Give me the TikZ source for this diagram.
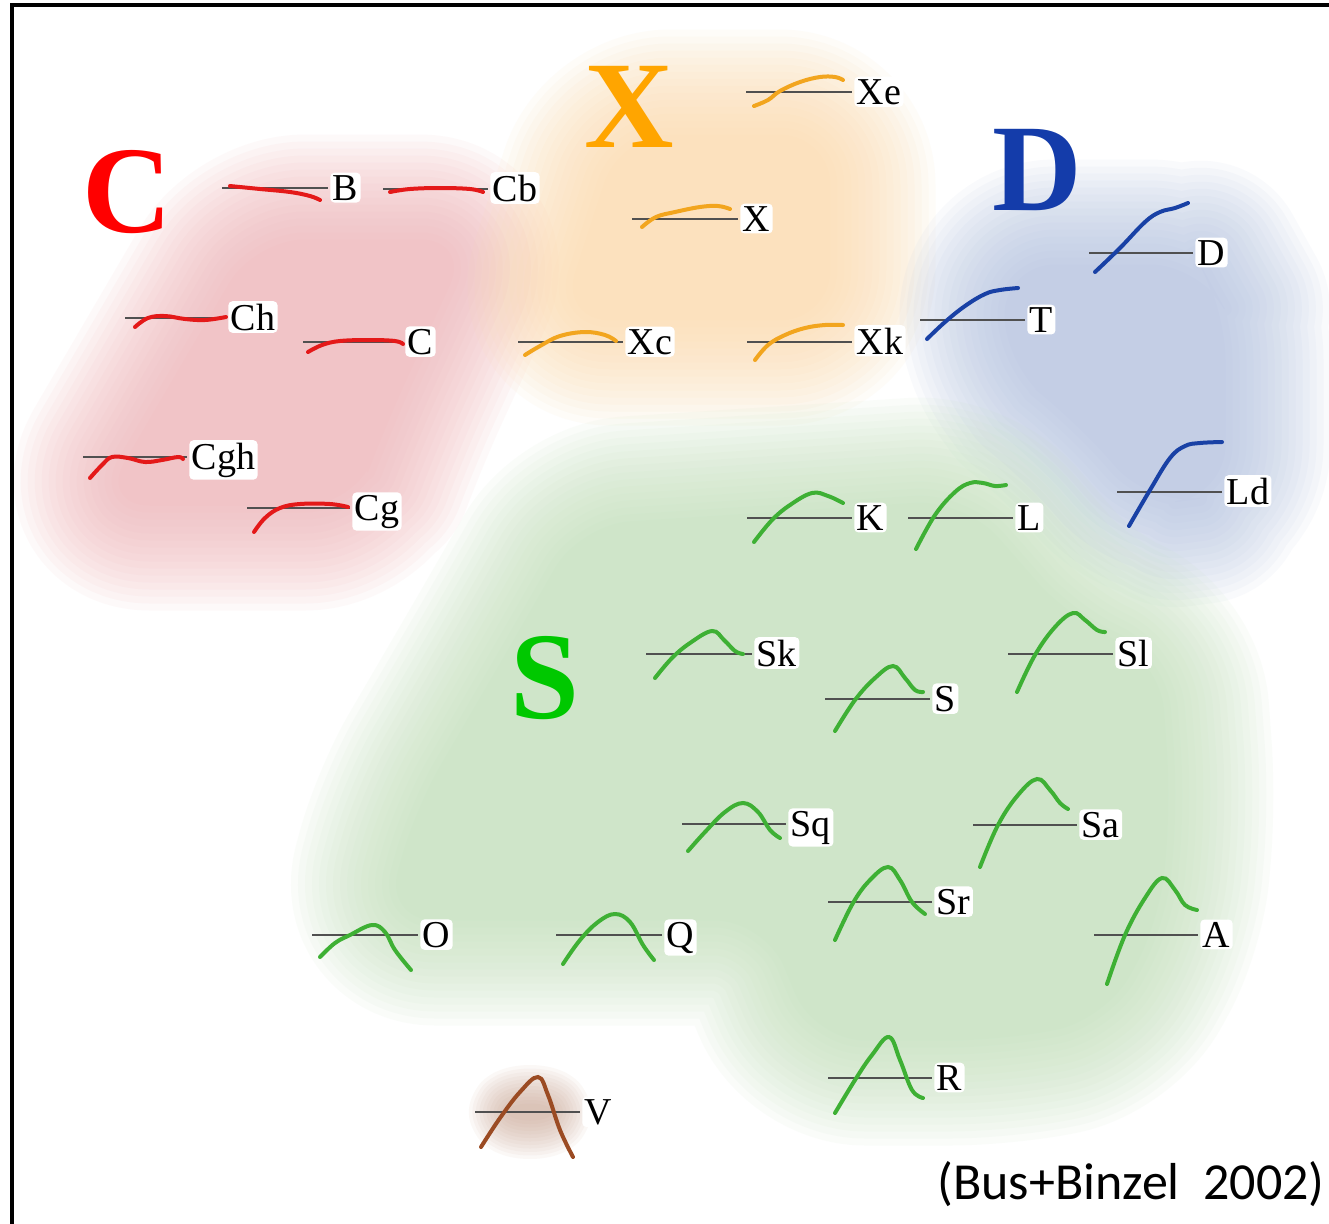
\documentclass[tikz,border=0pt]{standalone}
\usepackage{fontspec}
\setmainfont{Liberation Serif}
\newfontfamily\citefont{Carlito}
\definecolor{cred}{RGB}{228,25,25}
\definecolor{corange}{RGB}{242,165,30}
\definecolor{cblue}{RGB}{25,65,165}
\definecolor{cgreen}{RGB}{62,176,52}
\definecolor{cbrown}{RGB}{155,75,35}
\definecolor{bigred}{RGB}{255,0,0}
\definecolor{bigorange}{RGB}{255,165,0}
\definecolor{bigblue}{RGB}{20,60,170}
\definecolor{biggreen}{RGB}{0,200,0}
\definecolor{bgred}{RGB}{241,180,184}
\definecolor{bgorange}{RGB}{252,220,172}
\definecolor{bgblue}{RGB}{180,195,226}
\definecolor{bggreen}{RGB}{196,226,188}
\definecolor{bgbrown}{RGB}{200,160,140}
\definecolor{basegray}{RGB}{80,80,80}
\tikzset{
  baseln/.style={draw=basegray, line width=1.3pt},
  redc/.style={draw=cred, line width=2pt, line cap=round},
  orc/.style={draw=corange, line width=2pt, line cap=round},
  bluc/.style={draw=cblue, line width=2pt, line cap=round},
  grc/.style={draw=cgreen, line width=2pt, line cap=round},
  brc/.style={draw=cbrown, line width=2pt, line cap=round},
  lbl/.style={fill=white, inner sep=1.2pt, rounded corners=2pt, font=\fontsize{19}{22}\selectfont},
  bigl/.style={inner sep=0pt, font=\fontsize{62}{70}\selectfont\bfseries},
}
\newcommand\spec[7]{%
  \draw[baseln] (#3,#5) -- (#4,#5);
  \draw[#2] plot[smooth, tension=0.65] coordinates {#7};
  \node[lbl, anchor=base west] (#1) at ([xshift=1pt]#4,#5+12) {#6};
}
% soft blob: #1 colour, #2 opacity per layer, #3 step, #4 max width, #5 closed path
\newcommand\blob[5]{%
  \foreach \w in {1,#3,...,#4}{%
    \begin{scope}[transparency group, opacity=#2]
      \filldraw[fill=#1, draw=#1, line width=\w*0.5pt, line join=round, rounded corners=25pt] #5;
    \end{scope}
  }%
}
\begin{document}
\begin{tikzpicture}[x=0.5pt, y=-0.5pt]
\useasboundingbox (0,0) rectangle (1329,1223);
\fill[white] (0,0) rectangle (1329,1223);
% soft background regions
\blob{bgred}{0.08}{15}{211}{(255,240) -- (470,240) -- (385,425) -- (355,505) -- (100,505) -- cycle}
\blob{bgorange}{0.08}{15}{211}{(620,135) -- (830,135) -- (830,320) -- (560,320) -- cycle}
\blob{bgblue}{0.08}{15}{211}{(1005,265) -- (1200,265) -- (1225,310) -- (1225,495) -- (1150,505) -- (1075,420) -- (1005,365) -- cycle}
\blob{bggreen}{0.08}{15}{211}{(580,525) -- (965,500) -- (1070,620) -- (1160,660) -- (1170,800) -- (1160,920) -- (1105,1020) -- (1000,1040) -- (815,1040) -- (765,920) -- (385,920) -- (415,810) -- (520,630) -- cycle}
\blob{bgbrown}{0.07}{8}{81}{(530,1112) ellipse [x radius=22, y radius=8]}
% frame
\draw[line width=2pt] (12,1240) -- (12,5) -- (1340,5);
% big class letters
\node[bigl, text=bigred, anchor=base] (bigC) at (127,232) {C};
\node[bigl, text=bigorange, anchor=base] (bigX) at (629,147) {X};
\node[bigl, text=bigblue, anchor=base] (bigD) at (1037,210) {D};
\node[bigl, text=biggreen, anchor=base] (bigS) at (545,718) {S};
% C complex
\spec{nB}{redc}{222}{328}{188}{B}{(230,186) (260,189) (290,192) (310,196) (320,200)}
\spec{nCb}{redc}{383}{488}{189}{Cb}{(390,192) (410,189) (440,188) (470,189) (483,192)}
\spec{nCh}{redc}{125}{226}{318}{Ch}{(135,327) (148,318) (165,316) (185,319) (205,320) (226,317)}
\spec{nC}{redc}{303}{403}{342}{C}{(308,352) (322,345) (340,341) (370,340) (395,341) (403,344)}
\spec{nCgh}{redc}{83}{187}{457}{Cgh}{(90,478) (102,465) (112,457) (128,458) (145,462) (162,460) (178,457) (183,459)}
\spec{nCg}{redc}{247}{350}{508}{Cg}{(254,532) (265,518) (280,508) (300,504) (330,504) (348,507)}
% X complex
\spec{nXe}{orc}{746}{852}{92}{Xe}{(754,106) (768,100) (780,91) (800,82) (820,77) (835,77) (843,80)}
\spec{nX}{orc}{632}{738}{219}{X}{(642,227) (656,217) (675,212) (700,207) (718,206) (730,209)}
\spec{nXc}{orc}{518}{623}{342}{Xc}{(525,355) (540,346) (560,336) (585,332) (605,335) (616,341)}
\spec{nXk}{orc}{747}{852}{342}{Xk}{(755,360) (768,345) (785,335) (805,328) (825,325) (843,325)}
% D complex
\spec{nD}{bluc}{1089}{1193}{253}{D}{(1095,272) (1120,248) (1145,222) (1160,212) (1175,208) (1188,203)}
\spec{nT}{bluc}{920}{1025}{320}{T}{(927,339) (945,322) (965,306) (985,294) (1000,290) (1018,288)}
\spec{nLd}{bluc}{1117}{1222}{492}{Ld}{(1129,526) (1150,490) (1170,458) (1185,446) (1200,443) (1222,442)}
% S complex
\spec{nK}{grc}{747}{852}{518}{K}{(754,542) (772,520) (790,505) (812,493) (828,496) (843,503)}
\spec{nL}{grc}{908}{1013}{518}{L}{(916,549) (935,515) (955,492) (970,483) (983,483) (995,486) (1006,485)}
\spec{nSk}{grc}{646}{752}{654}{Sk}{(655,678) (672,658) (690,643) (712,631) (724,640) (735,651) (743,654)}
\spec{nS}{grc}{825}{930}{699}{S}{(835,731) (855,700) (875,678) (893,666) (905,678) (915,690) (923,692)}
\spec{nSl}{grc}{1008}{1113}{654}{Sl}{(1017,692) (1035,655) (1055,627) (1073,613) (1085,620) (1097,630) (1105,632)}
\spec{nSq}{grc}{682}{786}{824}{Sq}{(688,851) (705,832) (725,812) (743,803) (758,812) (770,830) (780,838)}
\spec{nSa}{grc}{973}{1077}{825}{Sa}{(980,867) (998,825) (1018,795) (1037,779) (1050,790) (1060,803) (1068,809)}
\spec{nSr}{grc}{828}{932}{902}{Sr}{(835,940) (853,903) (870,880) (888,867) (900,880) (912,902) (925,914)}
\spec{nA}{grc}{1094}{1198}{935}{A}{(1107,984) (1125,935) (1145,898) (1162,878) (1175,890) (1185,905) (1197,910)}
\spec{nR}{grc}{828}{932}{1078}{R}{(835,1113) (855,1080) (872,1055) (889,1037) (900,1060) (912,1090) (923,1098)}
\spec{nO}{grc}{312}{418}{935}{O}{(320,957) (335,943) (350,935) (372,925) (385,932) (395,950) (411,970)}
\spec{nQ}{grc}{556}{662}{935}{Q}{(563,964) (580,940) (598,922) (615,914) (630,922) (643,945) (654,960)}
% V
\spec{nV}{brc}{475}{580}{1112}{V}{(481,1147) (500,1118) (520,1092) (538,1077) (548,1095) (560,1130) (573,1157)}
% citation
\node[inner sep=0pt, anchor=base east, font=\citefont\fontsize{26}{30}\selectfont] (cite) at (1325,1199) {(Bus+Binzel\ \ 2002)};
\end{tikzpicture}
\end{document}
